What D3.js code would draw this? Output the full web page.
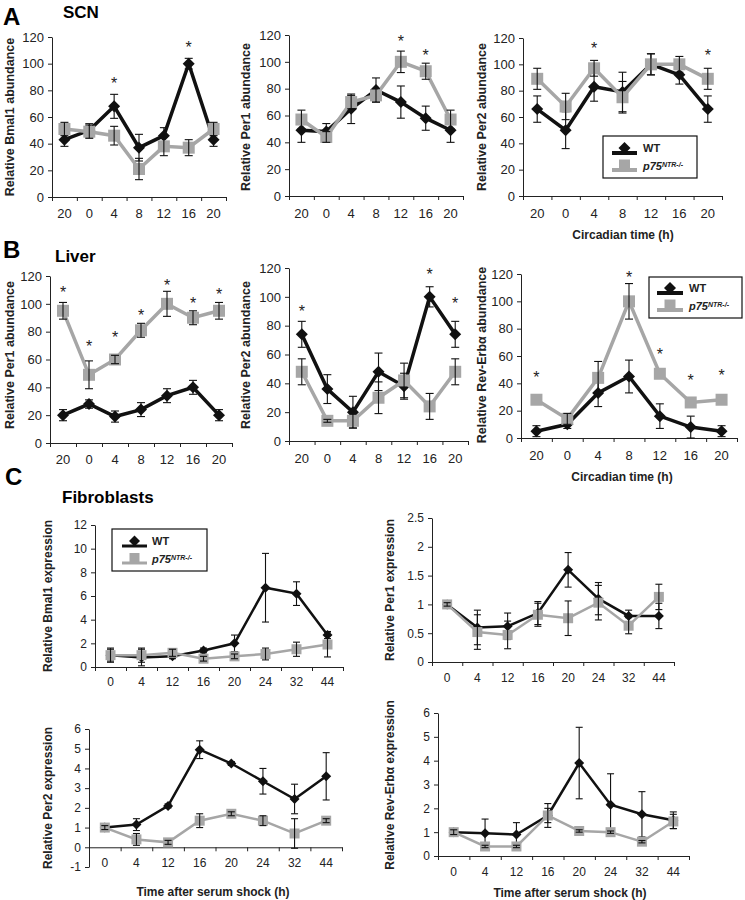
<!DOCTYPE html>
<html><head><meta charset="utf-8">
<script src="https://cdn.jsdelivr.net/npm/d3@7"></script>
<style>body{margin:0;background:#fff} svg{display:block;font-family:"Liberation Sans",Arial,sans-serif}</style>
</head><body><svg id="c" width="745" height="900"></svg>
<script>
// ---------- categories & ticks ----------
const circadianTimes = ["20","0","4","8","12","16","20"];
const serumTimes = ["0","4","12","16","20","24","32","44"];
const ticksAbundance = [0,20,40,60,80,100,120];
const ticksBmal1Fib = [0,2,4,6,8,10,12];
const ticksPer1Fib = [0,0.5,1,1.5,2,2.5];
const ticksPer2Fib = [-1,0,1,2,3,4,5,6];
const ticksRevFib = [0,1,2,3,4,5,6];
const seriesNames = ["WT","p75"];

// ---------- A: SCN ----------
const scnBmal1WT = [43, 50, 68, 37, 46, 100, 43];
const scnBmal1WTErr = [5, 5, 9, 10, 6, 4, 5];
const scnBmal1KO = [51, 49, 46, 21, 38, 37, 51];
const scnBmal1KOErr = [5, 5, 7, 8, 7, 6, 5];
const scnBmal1Stars = [null, null, 88, null, null, 115, null];

const scnPer1WT = [49, 48, 65, 79, 70, 58, 49];
const scnPer1WTErr = [9, 6, 11, 9, 12, 9, 9];
const scnPer1KO = [57, 44, 70, 75, 100, 93, 57];
const scnPer1KOErr = [7, 4, 5, 5, 8, 6, 7];
const scnPer1Stars = [null, null, null, null, 118, 107, null];

const scnPer2WT = [66, 50, 83, 79, 100, 92, 66];
const scnPer2WTErr = [10, 14, 11, 15, 8, 7, 10];
const scnPer2KO = [89, 68, 97, 75, 100, 100, 89];
const scnPer2KOErr = [8, 10, 6, 12, 8, 6, 8];
const scnPer2Stars = [null, null, 115, null, null, null, 109];

// ---------- B: Liver ----------
const livPer1WT = [20, 28, 19, 24, 34, 40, 20];
const livPer1WTErr = [4, 3, 4, 5, 5, 5, 4];
const livPer1KO = [95, 49, 60, 81, 100, 90, 95];
const livPer1KOErr = [6, 10, 3, 5, 9, 5, 6];
const livPer1Stars = [111, 72, 78, 94, 116, 103, 109];

const livPer2WT = [74, 36, 20, 48, 38, 100, 74];
const livPer2WTErr = [9, 10, 11, 13, 9, 7, 9];
const livPer2KO = [48, 14, 14, 30, 42, 24, 48];
const livPer2KOErr = [9, 1, 5, 11, 12, 9, 9];
const livPer2Stars = [92, null, null, null, null, 118, 98];

const livRevWT = [5, 10, 33, 45, 16, 8, 5];
const livRevWTErr = [4, 3, 10, 12, 9, 8, 4];
const livRevKO = [28, 14, 44, 100, 47, 26, 28];
const livRevKOErr = [0, 4, 12, 13, 0, 0, 0];
const livRevStars = [47, null, null, 120, 64, 45, 48];

// ---------- C: Fibroblasts ----------
const fibBmal1WT = [1, 0.8, 0.9, 1.4, 2, 6.7, 6.2, 2.7];
const fibBmal1WTErr = [0.5, 0.7, 0.2, 0.2, 0.7, 2.9, 1.0, 0.3];
const fibBmal1KO = [1, 1, 1.2, 0.7, 0.9, 1.1, 1.5, 1.9];
const fibBmal1KOErr = [0.6, 0.6, 0.3, 0.2, 0.2, 0.5, 0.6, 1.05];

const fibPer1WT = [1, 0.6, 0.62, 0.85, 1.6, 1.1, 0.8, 0.8];
const fibPer1WTErr = [0.03, 0.3, 0.23, 0.2, 0.3, 0.28, 0.1, 0.22];
const fibPer1KO = [1, 0.52, 0.47, 0.82, 0.76, 1.03, 0.63, 1.13];
const fibPer1KOErr = [0.03, 0.3, 0.24, 0.2, 0.3, 0.3, 0.14, 0.22];

const fibPer2WT = [1, 1.15, 2.1, 4.95, 4.25, 3.35, 2.45, 3.6];
const fibPer2WTErr = [0.1, 0.3, 0.1, 0.45, 0.1, 0.65, 0.75, 1.2];
const fibPer2KO = [1, 0.4, 0.25, 1.35, 1.7, 1.35, 0.7, 1.35];
const fibPer2KOErr = [0.1, 0.3, 0.1, 0.35, 0.1, 0.25, 0.75, 0.1];

const fibRevWT = [1, 0.95, 0.9, 1.7, 3.9, 2.15, 1.75, 1.5];
const fibRevWTErr = [0.1, 0.6, 0.5, 0.5, 1.5, 1.3, 0.95, 0.35];
const fibRevKO = [1, 0.4, 0.4, 1.7, 1.05, 1.0, 0.6, 1.45];
const fibRevKOErr = [0.1, 0.05, 0.05, 0.3, 0.05, 0.05, 0.05, 0.3];

// ---------- drawing ----------
const svg = d3.select("#c");
const BLACK = "#111", GRAY = "#a6a6a6", INK = "#222";

function marker(g, type, cx, cy, sz, color) {
  if (type === "diamond") {
    g.append("path").attr("d", d3.symbol(d3.symbolSquare, sz * sz / 2)())
      .attr("transform", `translate(${cx},${cy}) rotate(45)`).attr("fill", color);
  } else {
    g.append("path").attr("d", d3.symbol(d3.symbolSquare, sz * sz)())
      .attr("transform", `translate(${cx},${cy})`).attr("fill", color);
  }
}

function drawPanel(p) {
  const n = p.cats.length;
  const small = !!p.small;
  const fs = small ? 12 : 13;
  const x = d3.scaleBand().domain(d3.range(n)).range([p.x0, p.x1]);
  const y = d3.scaleLinear().domain([p.yticks[0], p.yticks[p.yticks.length - 1]]).range([p.yb, p.yt]);
  const cx = i => x(i) + x.bandwidth() / 2;
  const g = svg.append("g");

  // y axis
  const ya = g.append("g").attr("transform", `translate(${p.x0},0)`)
    .call(d3.axisLeft(y).tickValues(p.yticks).tickFormat(d => String(d)).tickSize(4).tickSizeOuter(0).tickPadding(4));
  ya.attr("font-family", null).attr("font-size", fs);
  ya.selectAll("text").attr("fill", INK);
  ya.selectAll("line,path").attr("stroke", INK);

  // x axis line with ticks at band edges
  const xaY = y(p.axisAt !== undefined ? p.axisAt : p.yticks[0]);
  const edge = d3.scaleLinear().domain([0, n]).range([p.x0, p.x1]);
  const xa = g.append("g").attr("transform", `translate(0,${xaY})`)
    .call(d3.axisBottom(edge).tickValues(d3.range(n + 1)).tickFormat("").tickSize(4).tickSizeOuter(0));
  xa.selectAll("line,path").attr("stroke", INK);

  // x tick labels
  const xl = g.append("g").attr("transform", `translate(0,${p.labY})`)
    .call(d3.axisBottom(x).tickSize(0).tickFormat(i => p.cats[i]));
  xl.select(".domain").remove();
  xl.attr("font-family", null).attr("font-size", fs);
  xl.selectAll("text").attr("y", 0).attr("dy", "0.36em").attr("fill", INK);

  // y label
  g.append("text").attr("transform", `translate(${p.ylx},${p.yly}) rotate(-90)`)
    .attr("text-anchor", "middle").attr("dy", "0.36em")
    .attr("font-size", small ? 12 : 12.5).attr("font-weight", "bold").attr("fill", INK)
    .text(p.ylabel);

  const lw = small ? 2.5 : 3.5;
  const capW = small ? 3.5 : 4;
  const dSz = small ? 10 : 12, sSz = small ? 10 : 12;
  const line = d3.line().x((d, i) => cx(i)).y(d => y(d));

  function series(vals, errs, color, type, sz) {
    g.append("path").attr("d", line(vals)).attr("fill", "none")
      .attr("stroke", color).attr("stroke-width", lw).attr("stroke-linejoin", "miter");
    vals.forEach((v, i) => marker(g, type, cx(i), y(v), sz, color));
    const eb = g.append("g").attr("stroke", BLACK).attr("stroke-width", 1.1);
    vals.forEach((v, i) => {
      const e = errs[i];
      if (!e) return;
      const X = cx(i), y1 = y(v + e), y2 = y(v - e);
      eb.append("line").attr("x1", X).attr("x2", X).attr("y1", y1).attr("y2", y2);
      eb.append("line").attr("x1", X - capW).attr("x2", X + capW).attr("y1", y1).attr("y2", y1);
      eb.append("line").attr("x1", X - capW).attr("x2", X + capW).attr("y1", y2).attr("y2", y2);
    });
  }
  series(p.wt, p.wtErr, BLACK, "diamond", dSz);
  series(p.ko, p.koErr, GRAY, "square", sSz);

  if (p.stars) {
    p.stars.forEach((s, i) => {
      if (s === null) return;
      g.append("text").attr("x", cx(i)).attr("y", y(s) + 9).attr("text-anchor", "middle")
        .attr("font-size", 16).attr("fill", "#222").text("*");
    });
  }
}

function legend(x0, y0, w, h, lx0, lx1, tx, y1, y2, small) {
  const g = svg.append("g");
  g.append("rect").attr("x", x0).attr("y", y0).attr("width", w).attr("height", h)
    .attr("fill", "#fff").attr("stroke", BLACK).attr("stroke-width", 1.2);
  const lw = small ? 3 : 4;
  const mx = (lx0 + lx1) / 2;
  g.append("line").attr("x1", lx0).attr("x2", lx1).attr("y1", y1 + 5).attr("y2", y1 + 5)
    .attr("stroke", BLACK).attr("stroke-width", lw);
  marker(g, "diamond", mx, y1, small ? 11 : 12, BLACK);
  g.append("line").attr("x1", lx0).attr("x2", lx1).attr("y1", y2 + 5).attr("y2", y2 + 5)
    .attr("stroke", GRAY).attr("stroke-width", lw);
  marker(g, "square", mx, y2, small ? 10 : 11, GRAY);
  const fs = 11;
  g.append("text").attr("x", tx).attr("y", y1).attr("dy", "0.36em").attr("font-size", fs)
    .attr("font-weight", "bold").attr("fill", INK).text(seriesNames[0]);
  const t = g.append("text").attr("x", tx).attr("y", y2 + 1).attr("dy", "0.36em").attr("font-size", fs)
    .attr("font-weight", "bold").attr("font-style", "italic").attr("fill", INK);
  t.append("tspan").text(seriesNames[1]);
  t.append("tspan").attr("font-size", 7).attr("dy", "-0.45em").text("NTR-/-");
}

// Section labels
function label(txt, x, y, size) {
  svg.append("text").attr("x", x).attr("y", y).attr("font-size", size).attr("font-weight", "bold")
    .attr("fill", "#000").text(txt);
}
label("A", 3, 25, 24); label("SCN", 63, 18, 17);
label("B", 3, 258, 24); label("Liver", 55, 262, 17);
label("C", 5, 485, 24); label("Fibroblasts", 62, 503, 17);

// Panels
drawPanel({cats: circadianTimes, yticks: ticksAbundance, wt: scnBmal1WT, wtErr: scnBmal1WTErr, ko: scnBmal1KO, koErr: scnBmal1KOErr, stars: scnBmal1Stars,
  x0: 52, x1: 226, yb: 197, yt: 37, labY: 213, ylabel: "Relative Bmal1 abundance", ylx: 9, yly: 117});
drawPanel({cats: circadianTimes, yticks: ticksAbundance, wt: scnPer1WT, wtErr: scnPer1WTErr, ko: scnPer1KO, koErr: scnPer1KOErr, stars: scnPer1Stars,
  x0: 289, x1: 463, yb: 196, yt: 35, labY: 213, ylabel: "Relative Per1 abundance", ylx: 245, yly: 117});
drawPanel({cats: circadianTimes, yticks: ticksAbundance, wt: scnPer2WT, wtErr: scnPer2WTErr, ko: scnPer2KO, koErr: scnPer2KOErr, stars: scnPer2Stars,
  x0: 523, x1: 722, yb: 196, yt: 38, labY: 213, ylabel: "Relative Per2 abundance", ylx: 481, yly: 117});

drawPanel({cats: circadianTimes, yticks: ticksAbundance, wt: livPer1WT, wtErr: livPer1WTErr, ko: livPer1KO, koErr: livPer1KOErr, stars: livPer1Stars,
  x0: 50, x1: 232, yb: 443, yt: 276, labY: 459, ylabel: "Relative Per1 abundance", ylx: 9, yly: 355});
drawPanel({cats: circadianTimes, yticks: ticksAbundance, wt: livPer2WT, wtErr: livPer2WTErr, ko: livPer2KO, koErr: livPer2KOErr, stars: livPer2Stars,
  x0: 289, x1: 468, yb: 441, yt: 268, labY: 458, ylabel: "Relative Per2 abundance", ylx: 245, yly: 355});
drawPanel({cats: circadianTimes, yticks: ticksAbundance, wt: livRevWT, wtErr: livRevWTErr, ko: livRevKO, koErr: livRevKOErr, stars: livRevStars,
  x0: 521, x1: 737, yb: 438, yt: 274, labY: 455, ylabel: "Relative Rev-Erbα abundance", ylx: 481, yly: 355});

drawPanel({cats: serumTimes, yticks: ticksBmal1Fib, wt: fibBmal1WT, wtErr: fibBmal1WTErr, ko: fibBmal1KO, koErr: fibBmal1KOErr, small: true,
  x0: 95, x1: 343, yb: 667, yt: 525, labY: 682, ylabel: "Relative Bmal1 expression", ylx: 48, yly: 596});
drawPanel({cats: serumTimes, yticks: ticksPer1Fib, wt: fibPer1WT, wtErr: fibPer1WTErr, ko: fibPer1KO, koErr: fibPer1KOErr, small: true,
  x0: 432, x1: 674, yb: 662, yt: 518, labY: 678, ylabel: "Relative Per1 expression", ylx: 390, yly: 590});
drawPanel({cats: serumTimes, yticks: ticksPer2Fib, wt: fibPer2WT, wtErr: fibPer2WTErr, ko: fibPer2KO, koErr: fibPer2KOErr, small: true, axisAt: 0,
  x0: 89, x1: 342, yb: 867, yt: 729, labY: 863, ylabel: "Relative Per2 expression", ylx: 48, yly: 798});
drawPanel({cats: serumTimes, yticks: ticksRevFib, wt: fibRevWT, wtErr: fibRevWTErr, ko: fibRevKO, koErr: fibRevKOErr, small: true,
  x0: 438, x1: 689, yb: 856, yt: 713, labY: 872, ylabel: "Relative Rev-Erbα expression", ylx: 390, yly: 785});

// axis titles
function axTitle(txt, x, y) {
  svg.append("text").attr("x", x).attr("y", y).attr("text-anchor", "middle").attr("dy", "0.36em")
    .attr("font-size", 12).attr("font-weight", "bold").attr("fill", INK).text(txt);
}
axTitle("Circadian time (h)", 623, 235);
axTitle("Circadian time (h)", 622, 477);
axTitle("Time after serum shock (h)", 213, 892);
axTitle("Time after serum shock (h)", 570, 893);

// legends
legend(603, 136, 94, 42, 612, 637, 643, 148, 165, false);
legend(649, 277, 93, 41, 657, 683, 689, 288, 305, false);
legend(112, 529, 95, 42, 122, 147, 152, 541, 558, true);
</script></body></html>
